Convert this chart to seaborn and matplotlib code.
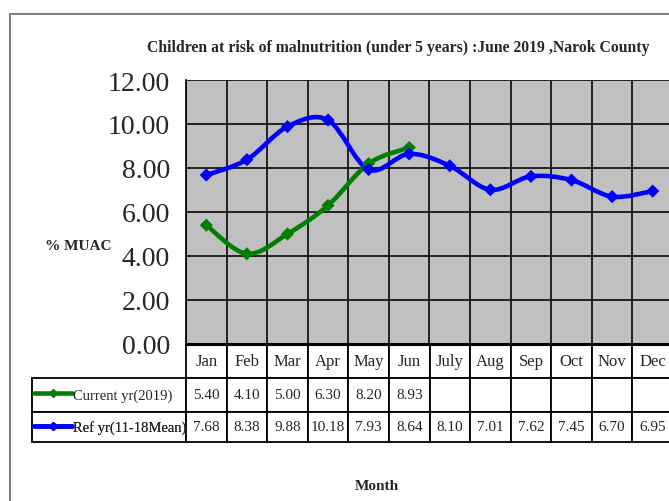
import numpy as np
import pandas as pd
import matplotlib.pyplot as plt
from matplotlib.path import Path
from matplotlib.patches import PathPatch, Rectangle
from matplotlib.lines import Line2D
import seaborn as sns

# ---------------------------------------------------------------
# Dati
# ---------------------------------------------------------------
months = ["Jan", "Feb", "Mar", "Apr", "May", "Jun",
          "July", "Aug", "Sep", "Oct", "Nov", "Dec"]
current_2019 = [5.40, 4.10, 5.00, 6.30, 8.20, 8.93,
                np.nan, np.nan, np.nan, np.nan, np.nan, np.nan]
ref_mean = [7.68, 8.38, 9.88, 10.18, 7.93, 8.64,
            8.10, 7.01, 7.62, 7.45, 6.70, 6.95]
series_names = ["Current yr(2019)", "Ref yr(11-18Mean)"]
series_colors = ["#008000", "#0000FF"]
y_ticks = [0, 2, 4, 6, 8, 10, 12]

title = "Children at risk of malnutrition (under 5 years) :June 2019 ,Narok County"

df = pd.DataFrame({
    "pos": list(range(len(months))) * 2,
    "month": months * 2,
    "value": current_2019 + ref_mean,
    "series": [series_names[0]] * len(months) + [series_names[1]] * len(months),
})

# ---------------------------------------------------------------
# Stile
# ---------------------------------------------------------------
sns.set_style("white")
plt.rcParams["font.family"] = ["Liberation Serif", "DejaVu Serif"]

W, H = 669, 502
fig = plt.figure(figsize=(W / 100, H / 100), dpi=100)
fig.patch.set_facecolor("white")

# area del grafico in pixel
L, R, T, B = 186, 673, 81, 345
ax = fig.add_axes([L / W, 1 - B / H, (R - L) / W, (B - T) / H])
ax.set_facecolor("#C0C0C0")


def smooth_path(xs, ys):
    # curva "smooth" stile Excel (Bezier tipo Catmull-Rom)
    pts = np.column_stack([xs, ys])
    n = len(pts)
    verts = [pts[0]]
    codes = [Path.MOVETO]
    for i in range(n - 1):
        p0 = pts[max(i - 1, 0)]
        p1 = pts[i]
        p2 = pts[i + 1]
        p3 = pts[min(i + 2, n - 1)]
        verts += [p1 + (p2 - p0) / 6, p2 - (p3 - p1) / 6, p2]
        codes += [Path.CURVE4] * 3
    return Path(verts, codes)


for name, color in zip(series_names, series_colors):
    sub = df[(df["series"] == name) & df["value"].notna()]
    ax.add_patch(PathPatch(smooth_path(sub["pos"].values, sub["value"].values),
                           facecolor="none", edgecolor=color, lw=3.3,
                           capstyle="round", joinstyle="round", zorder=3))

sns.scatterplot(data=df.dropna(), x="pos", y="value", hue="series",
                palette=dict(zip(series_names, series_colors)),
                marker="D", s=45, edgecolor="none", legend=False, ax=ax, zorder=4)

# assi
ax.set_xlim(-0.5, len(months) - 0.5)
ax.set_ylim(0, 12)
ax.set_xticks(np.arange(-0.5, len(months), 1))
ax.set_xticklabels([])
ax.set_yticks(y_ticks)
ax.set_yticklabels([f"{v:.2f}" for v in y_ticks], fontsize=20)
ax.tick_params(axis="x", length=0)
ax.tick_params(axis="y", length=4.5, width=1.2, color="black", pad=7, direction="out")
ax.grid(True, color="#151515", lw=1.3)
ax.set_axisbelow(True)
for s in ["top", "right"]:
    ax.spines[s].set_visible(False)
ax.spines["left"].set_color("black")
ax.spines["left"].set_linewidth(1.2)
ax.spines["bottom"].set_color("black")
ax.spines["bottom"].set_linewidth(2.2)

ax.set_ylabel("% MUAC", rotation=0, fontsize=11, fontweight="bold",
              va="center", ha="center")
ax.yaxis.set_label_coords((78 - L) / (R - L), (B - 247) / (B - T))
ax.set_xlabel("Month", fontsize=11, fontweight="bold", va="center")
ax.xaxis.set_label_coords((377 - L) / (R - L), -(487 - B) / (B - T))

fig.text(398 / W, 1 - 48 / H, title, ha="center", va="center",
         fontsize=11.3, fontweight="bold")

# ---------------------------------------------------------------
# Tabella dati sotto il grafico
# ---------------------------------------------------------------
tab_left, tab_bottom = 32, 443
row_h = [34, 34, 30]
rows = [months,
        ["" if np.isnan(v) else f"{v:.2f}" for v in current_2019],
        [f"{v:.2f}" for v in ref_mean]]
col_w = 1 / len(months)
tab = ax.table(cellText=rows, cellLoc="center", colWidths=[col_w] * len(months),
               bbox=[0, -(tab_bottom - B) / (B - T), 1, (tab_bottom - B) / (B - T)])
tab.auto_set_font_size(False)
# colonna a sinistra per le chiavi della legenda
for r in range(len(rows)):
    tab.add_cell(r, -1, width=(L - tab_left) / (R - L), height=0.1, text="")
for (r, c), cell in tab.get_celld().items():
    cell.set_height(row_h[r] / 1000)
    cell.set_edgecolor("black")
    cell.set_linewidth(1.3)
    cell.set_facecolor("white")
    cell.get_text().set_fontsize(12 if r == 0 else 11)
    if r == 0 and c == -1:
        cell.visible_edges = ""

# chiavi della legenda nelle celle a sinistra
row_centers = [396, 428]
for name, color, yc in zip(series_names, series_colors, row_centers):
    handle = Line2D([], [], color=color, lw=3.3, marker="D", markersize=4.5)
    leg = ax.legend(handles=[handle], labels=[name], loc="center left",
                    bbox_to_anchor=((34 - L) / (R - L), (B - yc) / (B - T)),
                    frameon=False, handlelength=2.6, handletextpad=0.1,
                    borderaxespad=0, borderpad=0, prop={"size": 10.5})
    leg.set_zorder(6)
    ax.add_artist(leg)

# cornice esterna
fig.patches.append(Rectangle((10 / W, -0.1), 1.2, 1.1 - 15 / H,
                             transform=fig.transFigure, fill=False,
                             edgecolor="#808080", lw=1.5))

fig.savefig("out.png", dpi=100)
